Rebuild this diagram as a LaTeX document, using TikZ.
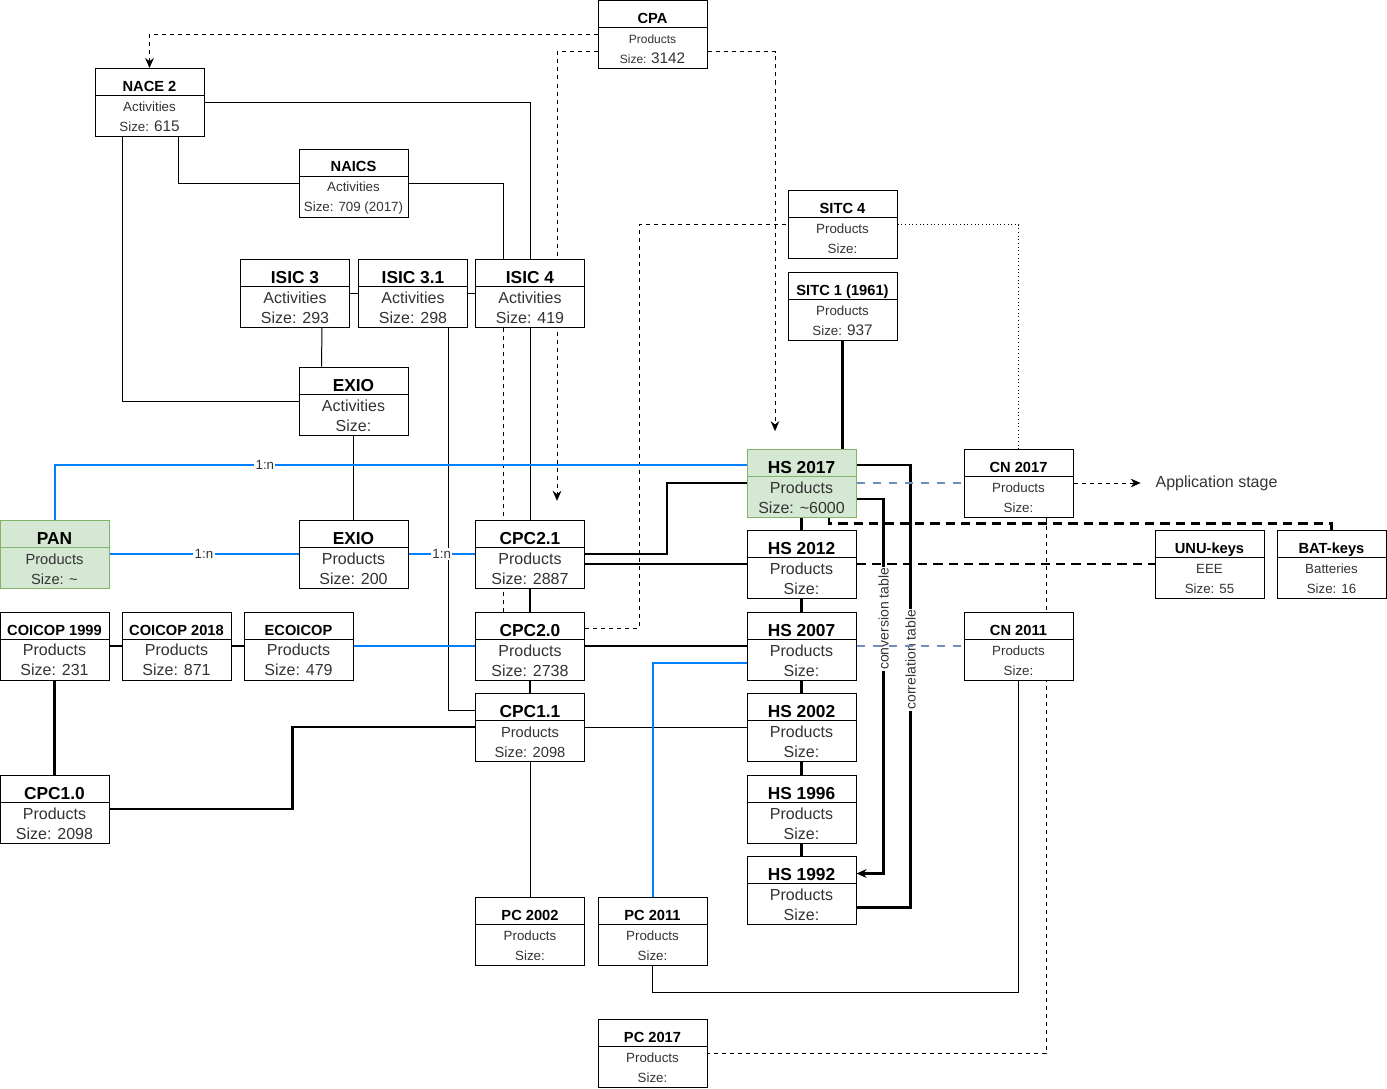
\documentclass[tikz,border=0pt]{standalone}
\usepackage{fontspec}
\setmainfont{Liberation Sans}
\usetikzlibrary{arrows.meta, calc, backgrounds}
\definecolor{pangreen}{HTML}{D5E8D4}
\definecolor{pangreenline}{HTML}{82B366}
\definecolor{linkblue}{HTML}{007FFF}
\definecolor{cnblue}{HTML}{6C8EBF}
\definecolor{bodygray}{HTML}{333333}
\newcommand{\tbig}[1]{\rule{0pt}{15.3pt}{\color{black}\fontsize{13}{15}\selectfont\bfseries #1}}
\newcommand{\tsml}[1]{\rule{0pt}{13.9pt}{\color{black}\fontsize{11}{15}\selectfont\bfseries #1}}
\newcommand{\numbig}[1]{{\fontsize{11.5}{15}\selectfont #1}}

\begin{document}
\begin{tikzpicture}[x=0.75pt, y=-0.75pt,
  cls/.style={draw, fill=white, line width=0.75pt, minimum width=81.75pt, minimum height=51pt, inner sep=0pt, align=center, text=bodygray, font=\fontsize{12}{15}\selectfont,
    path picture={\draw[line width=0.75pt] ([yshift=-20.25pt]path picture bounding box.north west) -- ([yshift=-20.25pt]path picture bounding box.north east);}},
  hsg/.style={cls, fill=pangreen, draw=pangreenline,
    path picture={\draw[pangreenline, line width=0.75pt] ([yshift=-20.25pt]path picture bounding box.north west) -- ([yshift=-20.25pt]path picture bounding box.north east);}},
  mid/.style={font=\fontsize{11}{15}\selectfont},
  sml/.style={font=\fontsize{10}{15}\selectfont},
  tny/.style={font=\fontsize{9}{15}\selectfont},
  lnk/.style={line width=0.75pt},
  thk/.style={line width=2pt},
  blu/.style={linkblue, line width=1.5pt},
  cnd/.style={cnblue, line width=1.5pt, dash pattern=on 6pt off 6pt},
  dsh/.style={line width=0.75pt, dash pattern=on 3pt off 3pt},
  keyd/.style={line width=2pt, dash pattern=on 7pt off 4.5pt},
  tip/.style={-{Stealth[length=7.5pt, width=6.5pt]}},
  onen/.style={fill=white, text=bodygray, font=\fontsize{10}{12}\selectfont, inner sep=1pt},
  tbl/.style={rotate=90, fill=white, text=bodygray, font=\fontsize{10.5}{12}\selectfont, inner sep=1pt}
]
\useasboundingbox (0,0) rectangle (1387,1088);

% activities
\node[cls, tny] (cpa) at (652.5,34.5) {\tsml{CPA}\\Products\\Size: \numbig{3142}};
\node[cls, sml] (nace2) at (149.5,102.5) {\tsml{NACE 2}\\Activities\\Size: \numbig{615}};
\node[cls, sml] (naics) at (353.5,183.5) {\tsml{NAICS}\\Activities\\Size: 709 (2017)};
\node[cls] (isic3) at (295,293) {\tbig{ISIC 3}\\Activities\\Size: 293};
\node[cls] (isic31) at (413,293) {\tbig{ISIC 3.1}\\Activities\\Size: 298};
\node[cls] (isic4) at (530,293) {\tbig{ISIC 4}\\Activities\\Size: 419};
\node[cls] (exioa) at (353.5,401) {\tbig{EXIO}\\Activities\\Size:};

% products
\node[hsg, mid] (pan) at (54.5,554) {\tbig{PAN}\\Products\\Size: \textasciitilde};
\node[cls] (exiop) at (353.5,554) {\tbig{EXIO}\\Products\\Size: 200};
\node[cls] (cpc21) at (530,554) {\tbig{CPC2.1}\\Products\\Size: 2887};
\node[cls] (cpc20) at (530,646) {\tbig{CPC2.0}\\Products\\Size: 2738};
\node[cls, mid] (cpc11) at (530,727) {\tbig{CPC1.1}\\Products\\Size: 2098};
\node[cls] (cpc10) at (54.5,809) {\tbig{CPC1.0}\\Products\\Size: 2098};
\node[cls] (coi99) at (54.5,646) {\tsml{COICOP 1999}\\Products\\Size: 231};
\node[cls] (coi18) at (176.5,646) {\tsml{COICOP 2018}\\Products\\Size: 871};
\node[cls] (ecoicop) at (298.5,646) {\tsml{ECOICOP}\\Products\\Size: 479};

% trade
\node[cls, sml] (sitc4) at (842.5,224.5) {\tsml{SITC 4}\\Products\\Size:};
\node[cls, sml] (sitc1) at (842.5,306) {\tsml{SITC 1 (1961)}\\Products\\Size: \numbig{937}};
\node[hsg] (hs17) at (801.5,483) {\tbig{HS 2017}\\Products\\Size: \textasciitilde6000};
\node[cls] (hs12) at (801.5,564) {\tbig{HS 2012}\\Products\\Size:};
\node[cls] (hs07) at (801.5,646) {\tbig{HS 2007}\\Products\\Size:};
\node[cls] (hs02) at (801.5,727) {\tbig{HS 2002}\\Products\\Size:};
\node[cls] (hs96) at (801.5,809) {\tbig{HS 1996}\\Products\\Size:};
\node[cls] (hs92) at (801.5,890.5) {\tbig{HS 1992}\\Products\\Size:};
\node[cls, sml] (cn17) at (1018.5,483) {\tsml{CN 2017}\\Products\\Size:};
\node[cls, sml] (cn11) at (1018.5,646) {\tsml{CN 2011}\\Products\\Size:};
\node[cls, sml] (unu) at (1209.5,564) {\tsml{UNU-keys}\\EEE\\Size: 55};
\node[cls, sml] (bat) at (1331.5,564) {\tsml{BAT-keys}\\Batteries\\Size: 16};
\node[cls, sml] (pc02) at (530,931) {\tsml{PC 2002}\\Products\\Size:};
\node[cls, sml] (pc11) at (652.5,931) {\tsml{PC 2011}\\Products\\Size:};
\node[cls, sml] (pc17) at (652.5,1053.5) {\tsml{PC 2017}\\Products\\Size:};
\node[text=bodygray, font=\fontsize{12}{14}\selectfont, inner sep=1pt] (appstage) at (1216.5,483) {Application stage};

\begin{scope}[on background layer]
% dashed references
\draw[dsh, tip] (cpa.west) -| (nace2.north);
\draw[dsh, tip, shorten >=13pt] ($(cpa.east)+(0,17.5)$) -| ($(hs17.north)+(-26.5,0)$);
\draw[dsh, tip, shorten >=14pt] ($(cpa.west)+(0,17.5)$) -| ($(cpc21.north)+(27,0)$);
\draw[dsh] ($(isic4.south)+(-27,0)$) -- ($(cpc20.north)+(-27,0)$);
\draw[dsh] ($(cpc20.east)+(0,-18)$) -- ++(54,0) |- (sitc4.west);
\draw[line width=0.75pt, dotted] (sitc4.east) -| (cn17.north);
\draw[dsh] ($(cn17.south)+(27.5,0)$) |- (pc17.east);
\draw[dsh, tip, shorten >=10pt] (cn17.east) -- (appstage.west);

% thin links
\draw[lnk] (nace2.east) -| (isic4.north);
\draw[lnk] ($(nace2.south)+(28.5,0)$) |- (naics.west);
\draw[lnk] (naics.east) -| ($(isic4.north)+(-27,0)$);
\draw[lnk] ($(nace2.south)+(-27.5,0)$) |- (exioa.west);
\draw[lnk] (isic3.east) -- (isic31.west);
\draw[lnk] (isic31.east) -- (isic4.west);
\draw[lnk] ($(isic3.south)+(27,0)$) -- ($(exioa.north west)+(23,0)$);
\draw[lnk] ($(isic31.south)+(35,0)$) |- ($(cpc11.west)+(0,-17)$);
\draw[lnk] (isic4.south) -- (cpc21.north);
\draw[lnk] (exioa) -- (exiop);
\draw[lnk] (cpc11.east) -- (hs02.west);
\draw[lnk] (cpc11) -- (pc02);
\draw[lnk] (cn11.south) |- ($(pc11.south)+(0,27)$) -- (pc11.south);

% thick links
\draw[thk] (coi99.east) -- (coi18.west);
\draw[thk] (coi18.east) -- (ecoicop.west);
\draw[thk] (coi99) -- (cpc10);
\draw[thk] (cpc10.east) -- ++(183,0) |- (cpc11.west);
\draw[thk] (cpc21) -- (cpc20);
\draw[thk] (cpc20) -- (cpc11);
\draw[thk] (cpc21.east) -- ++(82,0) |- (hs17.west);
\draw[thk] ($(cpc21.east)+(0,10)$) -- (hs12.west);
\draw[thk] (cpc20.east) -- (hs07.west);
\draw[thk] (sitc1.south) -- (sitc1.south |- hs17.north);
\draw[thk] (hs17) -- (hs12);
\draw[thk] (hs12) -- (hs07);
\draw[thk] (hs07) -- (hs02);
\draw[thk] (hs02) -- (hs96);
\draw[thk] (hs96) -- (hs92);
\draw[thk] ($(hs17.east)+(0,-18)$) -- ++(54,0) |- ($(hs92.east)+(0,17)$) node[pos=0.22, tbl] {correlation table};
\draw[thk, tip] ($(hs17.east)+(0,16)$) -- ++(27,0) |- ($(hs92.east)+(0,-17)$) node[pos=0.16, tbl] {conversion table};
\draw[keyd] (hs12.east) -- (unu.west);
\draw[keyd] ($(hs17.south)+(27.5,0)$) -- ++(0,6) -| (bat.north);

% blue links
\draw[cnd] (hs17.east) -- (cn17.west);
\draw[cnd] (hs07.east) -- (cn11.west);
\draw[blu] (pan.north) |- ($(hs17.west)+(0,-18)$) node[pos=0.652, onen] {1:n};
\draw[blu] (pan.east) -- (exiop.west) node[midway, onen] {1:n};
\draw[blu] (exiop.east) -- (cpc21.west) node[midway, onen] {1:n};
\draw[blu] (ecoicop.east) -- (cpc20.west);
\draw[blu] ($(hs07.west)+(0,17)$) -| (pc11.north);
\end{scope}

\end{tikzpicture}
\end{document}
